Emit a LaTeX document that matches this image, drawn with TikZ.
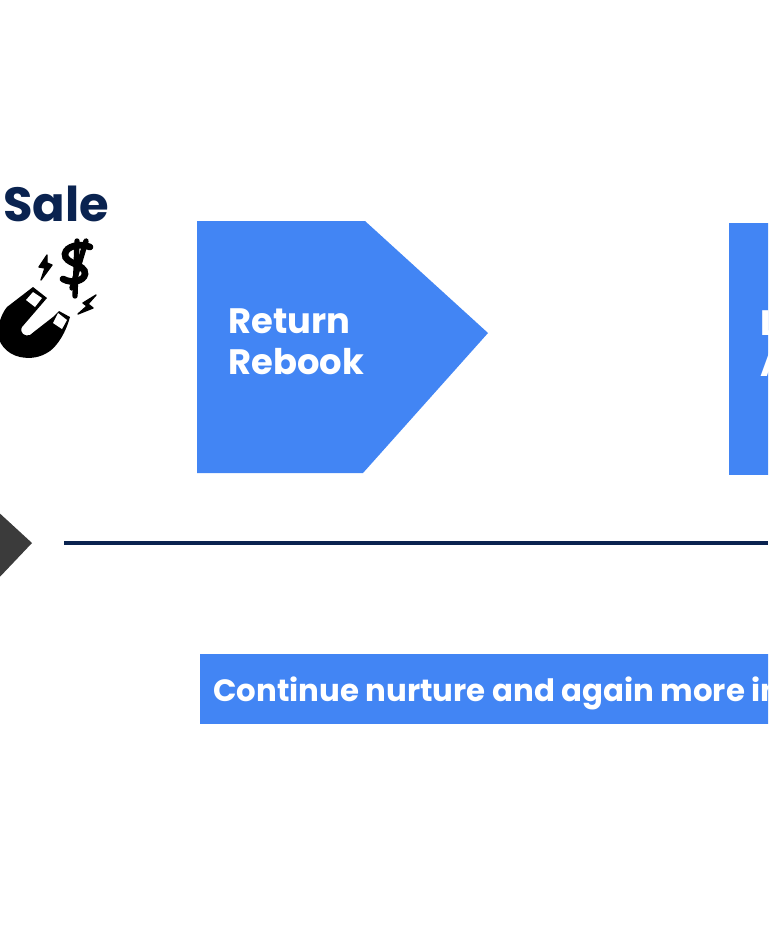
\documentclass[tikz,border=0pt]{standalone}
\usepackage{fontspec}
\setmainfont{Poppins}
\definecolor{boxblue}{HTML}{4285F4}
\definecolor{navy}{HTML}{0A2350}
\definecolor{darkgrey}{HTML}{3B3B3B}
\tikzset{
	boxlabel/.style={text=white,font=\bfseries\fontsize{26.5}{30.7}\selectfont,align=left,anchor=west,inner sep=0pt},
	barlabel/.style={text=white,font=\bfseries\fontsize{23.1}{26}\selectfont,anchor=base west,inner sep=0pt},
	headlabel/.style={text=navy,font=\bfseries\fontsize{36}{40}\selectfont,anchor=base west,inner sep=0pt},
	bolt/.style={fill=black,draw=black,line width=1pt,line join=round},
	dollarline/.style={draw=black,line width=4pt,line cap=round}
}
\begin{document}
\begin{tikzpicture}[x=0.75pt,y=-0.75pt]
		\useasboundingbox (0,0) rectangle (768,942);
		\clip (0,0) rectangle (768,942);
		
		\node[headlabel] (sale) at (3,221) {Sale};
		
		% magnet
		\fill[black] (33,287) -- (47,298) -- (22,327) .. controls (19,333) and (25,337) .. (30,335) -- (35,331) -- (53,317) -- (59,311) -- (70,317)
			.. controls (66,332) and (58,345) .. (50,351) .. controls (40,358) and (30,359) .. (20,357)
			.. controls (6,354) and (-3,342) .. (-2,331) .. controls (-1,320) and (3,312) .. (7,307) -- cycle;
		\fill[white] (33,292) -- (42,298) -- (35,307) -- (26,300) -- cycle;
		\fill[white] (58,313) -- (67,320) -- (62,329) -- (53,323) -- cycle;
		\foreach \px/\py in {18,302, 12,310, 22,312, 7,318, 15,320, 4,328, 11,331, 3,337, 9,341, 15,338, 14,347, 21,344, 24,352, 30,346, 36,350, 40,343, 46,346, 47,337, 53,338, 53,330}
			\fill[white] (\px,\py) circle (0.9);
		
		% dollar and bolts
		\draw[dollarline,line width=5pt] (90,247) .. controls (80,243) and (66,246) .. (65,254) .. controls (64,264) and (86,264) .. (85,274) .. controls (84,281) and (72,284) .. (63,279);
		\draw[dollarline] (77,241) -- (75,296);
		\draw[dollarline] (86,241) -- (72,288);
		\fill[bolt] (47,255) -- (39,267) -- (45,268) -- (41,280) -- (52,265) -- (47,263) -- cycle;
		\fill[bolt] (96,295) -- (83,303) -- (87,306) -- (78,314) -- (93,308) -- (88,304) -- cycle;
		
		% boxes
		\fill[boxblue] (197,221) -- (365,221) -- (488,333) -- (363,473) -- (197,473) -- cycle;
		\node[boxlabel] (ret) at (228,342) {Return\\Rebook};
		
		\fill[boxblue] (729,223) rectangle (780,475);
		\node[boxlabel] (next) at (760,344) {L\\A};
		
		% arrow and line
		\fill[darkgrey] (-5,509) -- (32,543) -- (-5,582) -- cycle;
		\coordinate (linestart) at (64,543);
		\coordinate (lineend) at (768,543);
		\draw[line width=2.5pt,navy] (linestart) -- (lineend);
		
		\fill[boxblue] (200,654) rectangle (780,724);
		\node[barlabel] (bar) at (213,701) {Continue nurture and again more in};
	\end{tikzpicture}
\end{document}
